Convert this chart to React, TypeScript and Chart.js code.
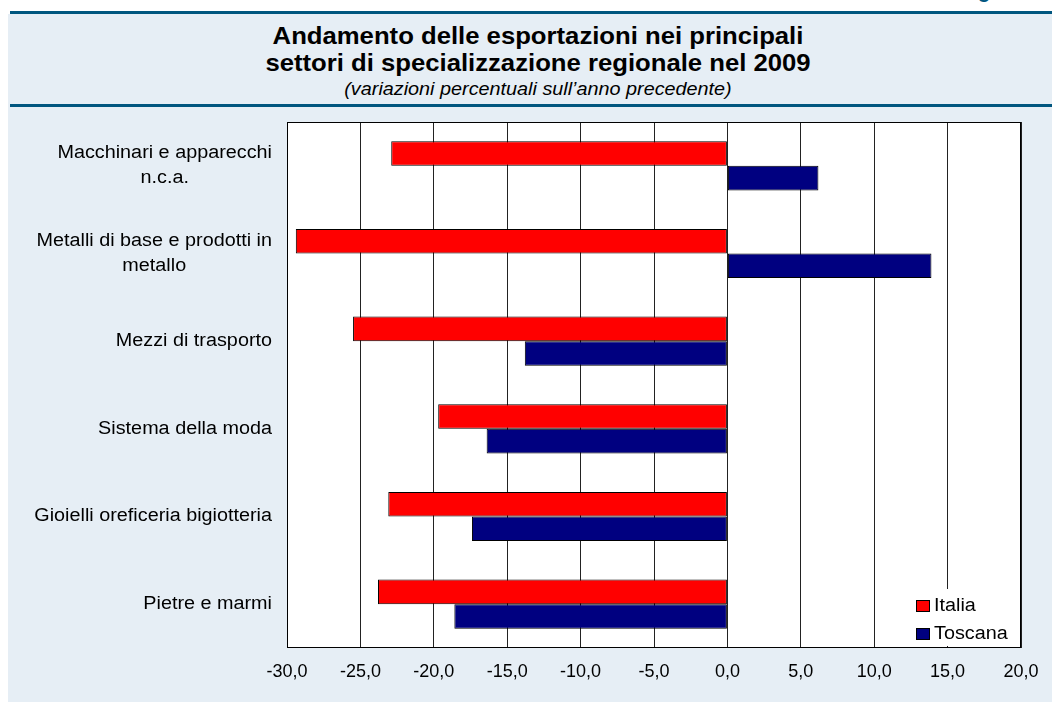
import React, { useEffect, useRef } from "react";
import { Chart, registerables } from "chart.js";

Chart.register(...registerables);

const CATEGORIES: string[][] = [
  ["Macchinari e apparecchi", "n.c.a."],
  ["Metalli di base e prodotti in", "metallo"],
  ["Mezzi di trasporto"],
  ["Sistema della moda"],
  ["Gioielli oreficeria bigiotteria"],
  ["Pietre e marmi"],
];
const SERIES_NAMES = ["Italia", "Toscana"];
const ITALIA = [-22.9, -29.4, -25.5, -19.7, -23.1, -23.8];
const TOSCANA = [6.2, 13.9, -13.8, -16.4, -17.4, -18.6];
const X_MIN = -30;
const X_MAX = 20;
const X_STEP = 5;

const COLORS = ["#FF0000", "#000080"];
const FONT = '"Liberation Sans", Arial, Helvetica, sans-serif';
const SX = 1.1;
const SX_TITLE = 1.07;

const decorPlugin = {
  id: "decor",
  beforeDraw(chart: any) {
    const { ctx, chartArea: a } = chart;
    ctx.save();
    ctx.fillStyle = "#FFFFFF";
    ctx.fillRect(a.left, a.top, a.right - a.left, a.bottom - a.top);
    ctx.restore();
  },
  afterDraw(chart: any) {
    const { ctx, chartArea: a } = chart;
    const yScale = chart.scales.y;
    // category labels
    ctx.save();
    ctx.fillStyle = "#000";
    ctx.font = `18px ${FONT}`;
    ctx.textAlign = "center";
    ctx.textBaseline = "middle";
    const labels = chart.data.labels as string[][];
    labels.forEach((lines, i) => {
      const cy = yScale.getPixelForValue(i);
      const widths = lines.map((l) => ctx.measureText(l).width * SX);
      const maxW = Math.max(...widths);
      const cx = a.left - 15 - maxW / 2;
      lines.forEach((l, j) => {
        const ly = cy + (j - (lines.length - 1) / 2) * 25;
        ctx.save();
        ctx.translate(cx, ly);
        ctx.scale(SX, 1);
        ctx.fillText(l, 0, 0);
        ctx.restore();
      });
    });
    ctx.restore();

    // legend inside plot
    ctx.save();
    ctx.fillStyle = "#FFFFFF";
    ctx.fillRect(903, 589, a.right - 903, 57);
    chart.data.datasets.forEach((ds: any, i: number) => {
      const by = 600 + i * 28;
      ctx.fillStyle = ds.backgroundColor;
      ctx.fillRect(916.5, by + 0.5, 13, 11);
      ctx.strokeStyle = "#000";
      ctx.lineWidth = 1;
      ctx.strokeRect(916.5, by + 0.5, 13, 11);
      ctx.fillStyle = "#000";
      ctx.font = `18px ${FONT}`;
      ctx.textAlign = "left";
      ctx.textBaseline = "middle";
      ctx.save();
      ctx.translate(934, by + 6.5);
      ctx.scale(SX, 1);
      ctx.fillText(ds.label, 0, 0);
      ctx.restore();
    });
    ctx.restore();

    // plot border
    ctx.save();
    ctx.strokeStyle = "#000";
    ctx.lineWidth = 1;
    ctx.strokeRect(
      Math.round(a.left) + 0.5,
      Math.round(a.top) + 0.5,
      Math.round(a.right - a.left) - 1,
      Math.round(a.bottom - a.top) - 1
    );
    ctx.restore();
  },
};

export default function App() {
  const ref = useRef<HTMLCanvasElement | null>(null);

  useEffect(() => {
    if (!ref.current) return;
    const chart = new Chart(ref.current, {
      type: "bar",
      data: {
        labels: CATEGORIES as any,
        datasets: [
          {
            label: SERIES_NAMES[0],
            data: ITALIA,
            backgroundColor: COLORS[0],
            borderColor: "#000",
            borderWidth: 1,
            borderSkipped: false,
            categoryPercentage: 0.56,
            barPercentage: 1.0,
          },
          {
            label: SERIES_NAMES[1],
            data: TOSCANA,
            backgroundColor: COLORS[1],
            borderColor: "#000",
            borderWidth: 1,
            borderSkipped: false,
            categoryPercentage: 0.56,
            barPercentage: 1.0,
          },
        ],
      },
      options: {
        indexAxis: "y",
        responsive: false,
        animation: false,
        maintainAspectRatio: false,
        layout: { padding: { left: 0, right: 31, top: 122, bottom: 0 } },
        plugins: {
          legend: { display: false },
          tooltip: { enabled: false },
          title: { display: false },
        },
        scales: {
          x: {
            type: "linear",
            min: X_MIN,
            max: X_MAX,
            border: { display: false },
            grid: { color: "#222", lineWidth: 1, drawTicks: false },
            ticks: {
              stepSize: X_STEP,
              padding: 13,
              color: "#000",
              font: { family: FONT, size: 18 },
              callback: (v: any) => Number(v).toFixed(1).replace(".", ","),
            },
            afterFit: (s: any) => {
              s.height = 54;
            },
          },
          y: {
            type: "category",
            border: { display: false },
            grid: { display: false },
            ticks: { display: false },
            afterFit: (s: any) => {
              s.width = 287;
            },
          },
        },
      },
      plugins: [decorPlugin],
    });
    return () => chart.destroy();
  }, []);

  return (
    <div
      style={{
        position: "absolute",
        left: 0,
        top: 0,
        width: 1052,
        height: 702,
        overflow: "hidden",
        background: "#FFFFFF",
        fontFamily: FONT,
      }}
    >
      <div
        style={{
          position: "absolute",
          left: 978,
          top: -21,
          fontSize: 20,
          fontWeight: "bold",
          color: "#00567F",
          lineHeight: "24px",
        }}
      >
        g
      </div>
      <div
        style={{
          position: "absolute",
          left: 8,
          top: 14,
          width: 1044,
          height: 688,
          background: "#E6EEF5",
        }}
      />
      <div style={{ position: "absolute", left: 10, top: 11, width: 1042, height: 3, background: "#00567F" }} />
      <div style={{ position: "absolute", left: 10, top: 104, width: 1042, height: 3, background: "#00567F" }} />
      <div
        style={{
          position: "absolute",
          left: 188,
          top: 22,
          width: 700,
          textAlign: "center",
          fontSize: 24,
          fontWeight: "bold",
          lineHeight: "27px",
          color: "#000",
          transform: `scaleX(${SX_TITLE})`,
          whiteSpace: "nowrap",
        }}
      >
        Andamento delle esportazioni nei principali
        <br />
        settori di specializzazione regionale nel 2009
      </div>
      <div
        style={{
          position: "absolute",
          left: 188,
          top: 79,
          width: 700,
          textAlign: "center",
          fontSize: 18,
          fontStyle: "italic",
          lineHeight: "20px",
          color: "#000",
          transform: `scaleX(${SX})`,
          whiteSpace: "nowrap",
        }}
      >
        (variazioni percentuali sull’anno precedente)
      </div>
      <canvas
        ref={ref}
        width={1052}
        height={702}
        style={{ position: "absolute", left: 0, top: 0, width: 1052, height: 702 }}
      />
    </div>
  );
}
